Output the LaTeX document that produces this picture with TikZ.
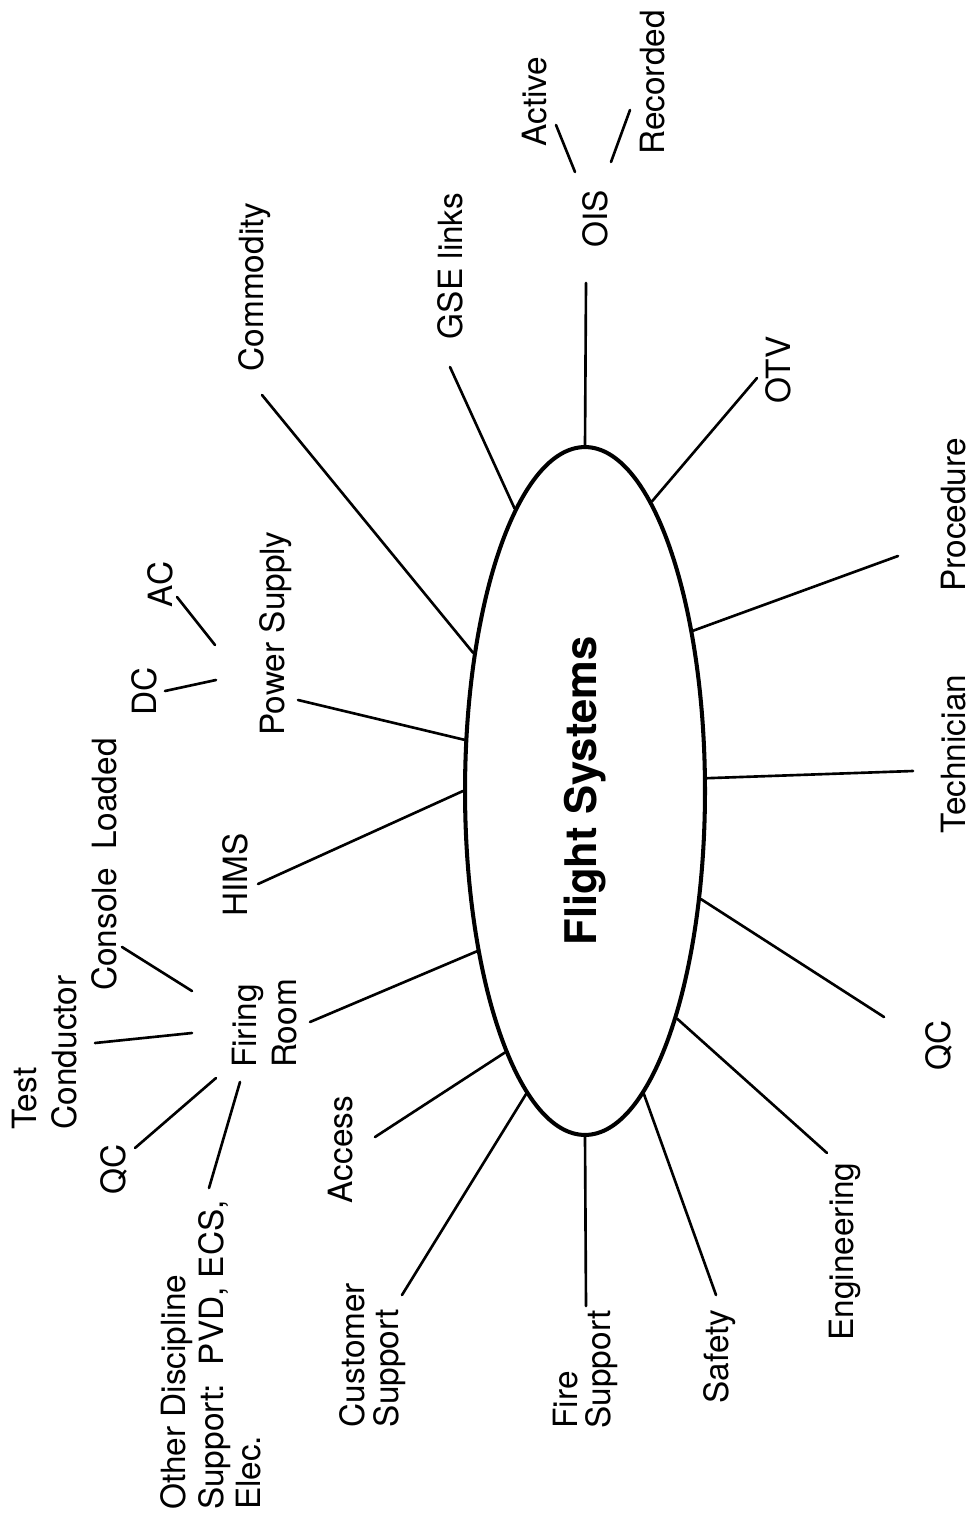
\documentclass[tikz,border=0pt]{standalone}
\usepackage{fontspec}
\usepackage{graphicx}
\setmainfont{TeX Gyre Heros}
\usetikzlibrary{shapes.geometric}
\begin{document}
\begin{tikzpicture}[x=0.02cm,y=-0.02cm,
  lbl/.style={rotate=90, inner sep=0pt, font=\fontsize{19}{19.3}\selectfont, align=left},
  wide/.style={font=\fontsize{19}{22.7}\selectfont},
  conn/.style={line width=1.5pt, line cap=round},
  hub/.style={ellipse, draw, line width=2.3pt, minimum width=4.8cm, minimum height=13.76cm, inner sep=0pt, font=\fontsize{24.8}{26}\selectfont\bfseries}]
\useasboundingbox (0,0) rectangle (977,1533);

% central ellipse
\node[hub] (fs) at (585,791) {\rotatebox{90}{Flight Systems}};

% labels
\node[lbl] (ois) at (595,219) {OIS};
\node[lbl] (active) at (535,101.5) {Active};
\node[lbl] (recorded) at (652.5,82.5) {Recorded};
\node[lbl] (gse) at (450,266) {GSE links};
\node[lbl] (commodity) at (254.5,287) {Commodity};
\node[lbl] (otv) at (778,370) {OTV};
\node[lbl] (procedure) at (954,515) {Procedure};
\node[lbl] (technician) at (954,754) {Technician};
\node[lbl] (qcr) at (938.5,1045) {QC};
\node[lbl] (engineering) at (844.5,1251.5) {Engineering};
\node[lbl] (safety) at (720,1356.5) {Safety};
\node[lbl] (fire) at (585.5,1369.5) {Fire\\Support};
\node[lbl] (customer) at (372.5,1355) {Customer\\Support};
\node[lbl] (access) at (340.5,1149.5) {Access};
\node[lbl,wide] (firing) at (265,1023.5) {Firing\\Room};
\node[lbl] (hims) at (235,875) {HIMS};
\node[lbl] (power) at (275.5,633.5) {Power Supply};
\node[lbl] (dc) at (144.5,691.5) {DC};
\node[lbl] (ac) at (160,584.5) {AC};
\node[lbl] (console) at (104,864.5) {Console~~Loaded};
\node[lbl,wide] (testc) at (44.5,1052.5) {Test\\Conductor};
\node[lbl] (qcl) at (113.5,1169) {QC};
\node[lbl,font=\fontsize{19}{21.5}\selectfont] (other) at (211,1355) {Other Discipline\\Support:\ \ PVD, ECS,\\Elec.};

% free ends of connectors
\coordinate (eOIS) at (586,283);
\coordinate (eGSE) at (450,367);
\coordinate (eCom) at (262,395);
\coordinate (eOTV) at (757,378);
\coordinate (eProc) at (898,556);
\coordinate (eTech) at (913,771);
\coordinate (eQCr) at (884,1017);
\coordinate (eEng) at (827,1153);
\coordinate (eSaf) at (716,1295);
\coordinate (eFire) at (586,1306);
\coordinate (eCust) at (402,1295);
\coordinate (eAcc) at (375,1137);
\coordinate (eFR) at (310,1022);
\coordinate (eHIMS) at (258,884);
\coordinate (ePow) at (298,700);
% sub-branches
\coordinate (a1) at (575,172);
\coordinate (a2) at (556,125);
\coordinate (r1) at (611,162);
\coordinate (r2) at (630,110);
\coordinate (ac1) at (215,645);
\coordinate (ac2) at (177,597);
\coordinate (dc1) at (216,680);
\coordinate (dc2) at (165,691);
\coordinate (cl1) at (192,991);
\coordinate (cl2) at (122,947);
\coordinate (tc1) at (192,1033);
\coordinate (tc2) at (95,1043);
\coordinate (ql1) at (216,1078);
\coordinate (ql2) at (135,1148);
\coordinate (od1) at (240,1082);
\coordinate (od2) at (209,1188);

% connectors from the hub
\draw[conn] (fs.90) -- (eOIS);
\draw[conn] (fs.104.4) -- (eGSE);
\draw[conn] (fs.129.5) -- (eCom);
\draw[conn] (fs.77.7) -- (eOTV);
\draw[conn] (fs.56.9) -- (eProc);
\draw[conn] (fs.6.2) -- (eTech);
\draw[conn] (fs.-43.4) -- (eQCr);
\draw[conn] (fs.-68.3) -- (eEng);
\draw[conn] (fs.-79.3) -- (eSaf);
\draw[conn] (fs.-90) -- (eFire);
\draw[conn] (fs.-101.2) -- (eCust);
\draw[conn] (fs.-107.7) -- (eAcc);
\draw[conn] (fs.-124.6) -- (eFR);
\draw[conn] (fs.180) -- (eHIMS);
\draw[conn] (fs.157.6) -- (ePow);

% sub-branch connectors
\draw[conn] (a1) -- (a2);
\draw[conn] (r1) -- (r2);
\draw[conn] (ac1) -- (ac2);
\draw[conn] (dc1) -- (dc2);
\draw[conn] (cl1) -- (cl2);
\draw[conn] (tc1) -- (tc2);
\draw[conn] (ql1) -- (ql2);
\draw[conn] (od1) -- (od2);
\end{tikzpicture}
\end{document}
